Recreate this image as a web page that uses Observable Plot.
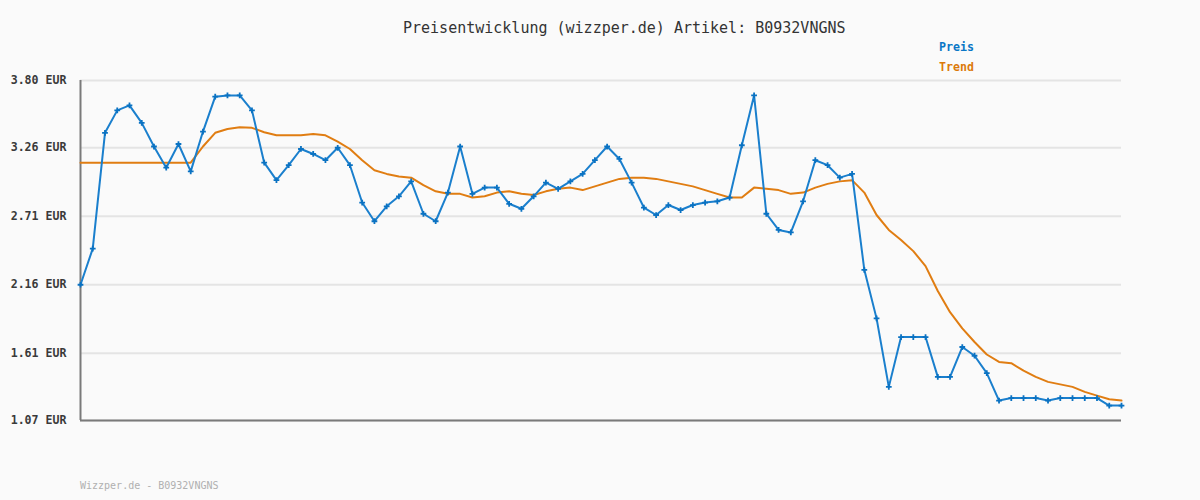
<!DOCTYPE html>
<html>
<head>
<meta charset="utf-8">
<script src="https://cdn.jsdelivr.net/npm/d3@7"></script>
<script src="https://cdn.jsdelivr.net/npm/@observablehq/plot@0.6"></script>
<style>
  html, body { margin: 0; padding: 0; background: #fafafa; }
  #wrap { position: relative; width: 1200px; height: 500px; background: #fafafa; font-family: "DejaVu Sans Mono", monospace; }
  #title { position: absolute; left: 403px; top: 19px; font-size: 15px; color: #333; white-space: pre; }
  .leg { position: absolute; left: 939px; font-size: 11.6px; font-weight: bold; white-space: pre; }
  #footer { position: absolute; left: 80px; top: 480px; font-size: 10px; color: #b0b0b0; white-space: pre; }
  #chart { position: absolute; left: 0; top: 0; }
</style>
</head>
<body>
<div id="wrap">
  <div id="chart"></div>
  <div id="title">Preisentwicklung (wizzper.de) Artikel: B0932VNGNS</div>
  <div class="leg" style="top:40px;color:#0a77c6;">Preis</div>
  <div class="leg" style="top:60px;color:#dc7a0a;">Trend</div>
  <div id="footer">Wizzper.de - B0932VNGNS</div>
</div>
<script>
// Price observations (EUR), in order
const preis = [
  2.16, 2.45, 3.38, 3.56, 3.60, 3.46, 3.27, 3.10, 3.29, 3.07,
  3.39, 3.67, 3.68, 3.68, 3.56, 3.14, 3.00, 3.12, 3.25, 3.21,
  3.16, 3.26, 3.12, 2.82, 2.67, 2.79, 2.87, 2.99, 2.73, 2.67,
  2.90, 3.27, 2.89, 2.94, 2.94, 2.81, 2.77, 2.87, 2.98, 2.93,
  2.99, 3.05, 3.16, 3.27, 3.17, 2.98, 2.78, 2.72, 2.80, 2.76,
  2.80, 2.82, 2.83, 2.86, 3.28, 3.68, 2.73, 2.60, 2.58, 2.83,
  3.16, 3.12, 3.02, 3.05, 2.28, 1.89, 1.34, 1.74, 1.74, 1.74,
  1.42, 1.42, 1.66, 1.59, 1.45, 1.23, 1.25, 1.25, 1.25, 1.23,
  1.25, 1.25, 1.25, 1.25, 1.19, 1.19
];
// Trend line (EUR)
const trend = [
  3.14, 3.14, 3.14, 3.14, 3.14, 3.14, 3.14, 3.14, 3.14, 3.14,
  3.27, 3.38, 3.41, 3.425, 3.42, 3.385, 3.36, 3.36, 3.36, 3.37,
  3.36, 3.31, 3.25, 3.16, 3.08, 3.05, 3.03, 3.02, 2.96, 2.91,
  2.89, 2.89, 2.86, 2.87, 2.90, 2.91, 2.89, 2.88, 2.91, 2.93,
  2.94, 2.92, 2.95, 2.98, 3.01, 3.02, 3.02, 3.01, 2.99, 2.97,
  2.95, 2.92, 2.89, 2.86, 2.86, 2.94, 2.93, 2.92, 2.89, 2.90,
  2.94, 2.97, 2.99, 3.00, 2.90, 2.72, 2.60, 2.52, 2.43, 2.31,
  2.11, 1.94, 1.81, 1.70, 1.60, 1.54, 1.53, 1.47, 1.42, 1.38,
  1.36, 1.34, 1.30, 1.27, 1.24, 1.23
];
// Y tick labels
const yTicks = [1.07, 1.61, 2.16, 2.71, 3.26, 3.80];

const n = preis.length;
const idx = d3.range(n);
const preisData = idx.map(i => ({i, v: preis[i]}));
const trendData = idx.map(i => ({i, v: trend[i]}));

const blue = "#1a7fcd";
const orange = "#e07d12";

const chart = Plot.plot({
  width: 1200,
  height: 500,
  marginLeft: 80,
  marginRight: 79,
  marginTop: 80,
  marginBottom: 80,
  style: { background: "transparent", fontFamily: "DejaVu Sans Mono, monospace" },
  x: { domain: [0, n - 1], axis: null },
  y: { domain: [yTicks[0], yTicks[yTicks.length - 1]], axis: null },
  marks: [
    Plot.gridY(yTicks, { stroke: "#e4e4e4", strokeOpacity: 1, strokeWidth: 2 }),
    Plot.axisY(yTicks, {
      label: null,
      tickSize: 0, tickPadding: 14,
      tickFormat: d => d.toFixed(2) + " EUR",
      fontSize: 11.6, fontWeight: "bold", fill: "#3a3a3a"
    }),
    Plot.ruleX([0], { stroke: "#7a7a7a", strokeWidth: 2 }),
    Plot.ruleY([yTicks[0]], { stroke: "#7a7a7a", strokeWidth: 2 }),
    Plot.line(trendData, { x: "i", y: "v", stroke: orange, strokeWidth: 2 }),
    Plot.line(preisData, { x: "i", y: "v", stroke: blue, strokeWidth: 2 }),
    Plot.dot(preisData, { x: "i", y: "v", symbol: "plus", r: 2, stroke: "#0a72c2", strokeWidth: 1.8 })
  ]
});
document.getElementById("chart").appendChild(chart);
</script>
</body>
</html>
